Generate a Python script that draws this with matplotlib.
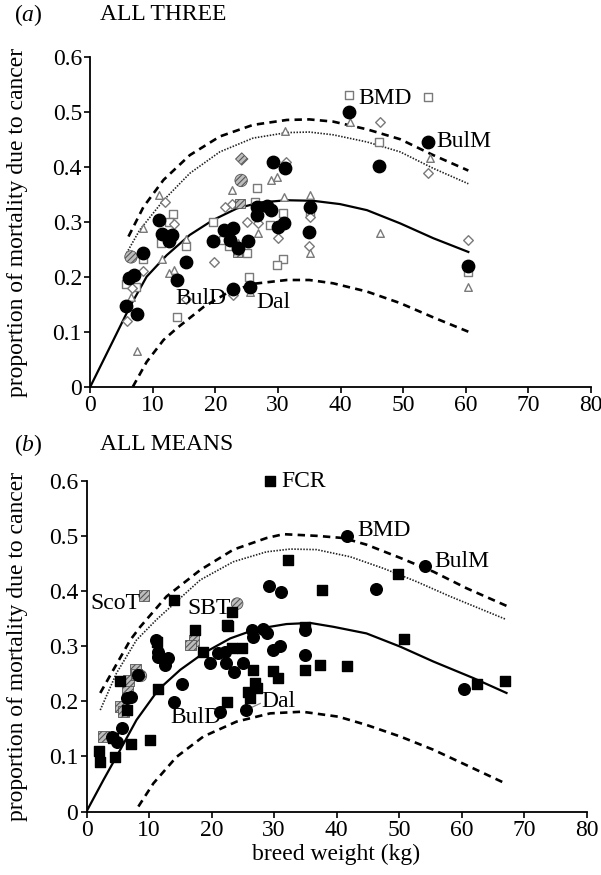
import numpy as np
import matplotlib
matplotlib.use("Agg")
from matplotlib import pyplot as plt

plt.rcParams['font.family'] = ['Liberation Serif', 'DejaVu Serif']
plt.rcParams['mathtext.fontset'] = 'custom'
plt.rcParams['mathtext.rm'] = 'Liberation Serif'
plt.rcParams['mathtext.it'] = 'Liberation Serif:italic'
plt.rcParams['hatch.linewidth'] = 0.8

# ---- panel (a): ALL THREE ----
a_circle_x = [6.2, 7.0, 5.7, 7.5, 8.4, 11.0, 11.4, 13.0, 12.6, 15.3, 13.8, 19.6, 21.4, 22.8,
              22.3, 23.6, 25.2, 22.8, 25.5, 26.6, 26.7, 28.3, 28.9, 29.2, 31.1, 30.0, 31.0,
              35.1, 35.0, 41.3, 54.0, 46.2, 60.3]
a_circle_y = [0.198, 0.204, 0.147, 0.132, 0.244, 0.303, 0.278, 0.275, 0.265, 0.227, 0.194,
              0.265, 0.285, 0.289, 0.267, 0.252, 0.265, 0.178, 0.181, 0.327, 0.312, 0.329,
              0.321, 0.409, 0.397, 0.291, 0.298, 0.326, 0.281, 0.499, 0.444, 0.402, 0.220]

a_square_x = [13.8, 13.2, 12.5, 11.3, 8.5, 5.7, 7.3, 15.3, 19.6, 21.2, 22.2, 25.0, 26.7, 26.3,
              28.7, 30.8, 30.8, 29.8, 25.4, 35.1, 41.3, 54.0, 46.2, 60.3]
a_square_y = [0.127, 0.314, 0.300, 0.262, 0.232, 0.186, 0.182, 0.255, 0.300, 0.267, 0.255,
              0.243, 0.362, 0.336, 0.294, 0.316, 0.233, 0.221, 0.199, 0.318, 0.530, 0.526,
              0.444, 0.208]

a_diamond_x = [5.8, 8.5, 13.4, 15.3, 19.8, 21.5, 25.1, 26.8, 30.0, 31.3, 35.1, 35.0, 22.8,
               6.6, 46.3, 54.0, 60.4, 22.6, 12.0]
a_diamond_y = [0.120, 0.211, 0.295, 0.159, 0.227, 0.327, 0.299, 0.297, 0.271, 0.408, 0.309,
               0.256, 0.167, 0.179, 0.482, 0.389, 0.267, 0.332, 0.335]

a_triangle_x = [31.1, 22.7, 28.9, 29.9, 26.8, 30.9, 35.1, 35.1, 15.3, 8.5, 11.4, 13.3, 12.6,
                6.5, 10.9, 23.6, 46.3, 54.2, 60.4, 41.5, 7.5, 25.5]
a_triangle_y = [0.465, 0.358, 0.375, 0.381, 0.279, 0.345, 0.349, 0.243, 0.268, 0.289, 0.233,
                0.212, 0.207, 0.164, 0.349, 0.261, 0.279, 0.415, 0.182, 0.482, 0.065, 0.172]

a_hatch_circle_x = [6.5, 24.1]
a_hatch_circle_y = [0.236, 0.375]
a_hatch_square_x = [23.9, 23.5]
a_hatch_square_y = [0.333, 0.245]
a_hatch_diamond_x = [24.2]
a_hatch_diamond_y = [0.414]

a_fit_x = [0, 3.7, 6.3, 9.0, 12.2, 15.9, 19.6, 23.4, 27.1, 31.4, 35.6, 39.9, 44.2, 49.5, 54.8, 60.4]
a_fit_y = [0, 0.085, 0.145, 0.200, 0.239, 0.276, 0.303, 0.324, 0.335, 0.339, 0.338, 0.332,
           0.321, 0.297, 0.270, 0.245]
a_upper_x = [6.1, 8.5, 11.7, 15.9, 20.7, 26.0, 31.4, 35.0, 38.8, 44.2, 49.5, 54.8, 60.4]
a_upper_y = [0.273, 0.327, 0.376, 0.421, 0.455, 0.476, 0.485, 0.486, 0.482, 0.468, 0.450,
             0.421, 0.393]
a_dot_x = [5.8, 7.9, 11.7, 15.9, 20.7, 26.0, 31.4, 35.0, 38.8, 44.2, 49.5, 54.8, 60.4]
a_dot_y = [0.243, 0.285, 0.339, 0.388, 0.427, 0.452, 0.462, 0.463, 0.458, 0.445, 0.427,
           0.397, 0.369]
a_lower_x = [6.8, 9.0, 11.7, 13.8, 18.1, 21.8, 26.0, 31.4, 35.0, 38.8, 44.2, 49.5, 54.8, 60.4]
a_lower_y = [0.0, 0.045, 0.085, 0.106, 0.145, 0.170, 0.187, 0.194, 0.194, 0.188, 0.173,
             0.152, 0.126, 0.100]

a_labels = ["BMD", "BulM", "BulD", "Dal"]
a_label_x = [42.9, 55.3, 13.6, 26.6]
a_label_y = [0.524, 0.446, 0.161, 0.153]

# ---- panel (b): ALL MEANS ----
b_square_x = [2.05, 2.2, 4.5, 4.3, 7.1, 10.2, 5.4, 6.5, 11.5, 11.3, 17.4, 18.7, 22.4, 24.9,
              22.4, 25.9, 26.2, 26.7, 27.0, 27.2, 29.8, 30.7, 35.0, 37.4, 35.0, 14.0, 23.3,
              22.6, 23.3, 32.3, 29.4, 37.6, 49.9, 50.8, 41.6, 62.5, 67.0]
b_square_y = [0.109, 0.090, 0.098, 0.133, 0.123, 0.130, 0.237, 0.184, 0.222, 0.308, 0.329,
              0.289, 0.338, 0.297, 0.199, 0.217, 0.205, 0.257, 0.233, 0.224, 0.254, 0.242,
              0.257, 0.266, 0.335, 0.384, 0.361, 0.337, 0.296, 0.456, 0.600, 0.401, 0.430,
              0.313, 0.263, 0.231, 0.237]

b_circle_x = [41.6, 54.2, 29.2, 31.1, 46.3, 35.0, 11.1, 11.5, 11.4, 13.1, 12.6, 15.2, 14.0,
              5.6, 4.8, 4.0, 6.4, 7.1, 8.3, 19.8, 21.1, 22.2, 22.3, 23.6, 25.1, 26.4, 26.7,
              28.3, 28.8, 29.9, 31.0, 35.0, 25.5, 21.4, 60.4]
b_circle_y = [0.500, 0.446, 0.409, 0.398, 0.403, 0.283, 0.311, 0.290, 0.281, 0.278, 0.266,
              0.231, 0.199, 0.151, 0.126, 0.135, 0.205, 0.207, 0.248, 0.269, 0.287, 0.290,
              0.270, 0.253, 0.269, 0.329, 0.317, 0.331, 0.323, 0.293, 0.300, 0.330, 0.184,
              0.180, 0.222]

b_hatch_square_x = [2.7, 5.4, 5.9, 6.5, 6.7, 7.8, 8.0, 17.2, 16.6, 9.2]
b_hatch_square_y = [0.136, 0.191, 0.181, 0.219, 0.237, 0.258, 0.249, 0.310, 0.302, 0.392]
b_hatch_circle_x = [8.7, 24.1]
b_hatch_circle_y = [0.246, 0.377]

b_fit_x = [0, 2.7, 5.4, 8.0, 11.5, 15.0, 18.7, 23.0, 27.2, 32.0, 35.8, 39.5, 44.8, 50.2,
           55.5, 61.9, 67.2]
b_fit_y = [0, 0.057, 0.112, 0.166, 0.221, 0.257, 0.287, 0.314, 0.331, 0.340, 0.342, 0.335,
           0.323, 0.299, 0.272, 0.242, 0.215]
b_upper_x = [2.2, 4.3, 7.0, 8.6, 12.8, 18.2, 23.5, 28.8, 31.5, 36.8, 41.1, 44.8, 50.2, 55.5,
             60.8, 67.2]
b_upper_y = [0.215, 0.257, 0.311, 0.335, 0.390, 0.438, 0.475, 0.496, 0.503, 0.500, 0.496,
             0.484, 0.460, 0.435, 0.405, 0.373]
b_dot_x = [2.2, 4.8, 8.0, 11.2, 18.2, 23.5, 28.8, 32.6, 36.8, 42.2, 47.5, 52.8, 58.2, 67.0]
b_dot_y = [0.184, 0.251, 0.311, 0.348, 0.420, 0.453, 0.471, 0.476, 0.475, 0.462, 0.441,
           0.417, 0.390, 0.349]
b_lower_x = [8.3, 10.7, 14.4, 18.7, 24.0, 29.4, 34.5, 40.3, 44.8, 50.2, 55.5, 60.8, 67.2]
b_lower_y = [0.009, 0.051, 0.099, 0.136, 0.163, 0.178, 0.181, 0.172, 0.157, 0.136, 0.112,
             0.084, 0.050]

b_labels = ["FCR", "BMD", "BulM", "ScoT", "SBT", "BulD", "Dal"]
b_label_x = [31.2, 43.3, 55.6, 0.6, 16.2, 13.4, 28.0]
b_label_y = [0.599, 0.510, 0.453, 0.378, 0.369, 0.170, 0.200]

xticks = [0, 10, 20, 30, 40, 50, 60, 70, 80]
yticks = [0, 0.1, 0.2, 0.3, 0.4, 0.5, 0.6]
ytick_labels = ['0', '0.1', '0.2', '0.3', '0.4', '0.5', '0.6']

W, H = 601, 875
fig = plt.figure(figsize=(W / 100, H / 100), dpi=100)

ax_a = fig.add_axes([90.3 / W, 1 - 386.7 / H, 500.7 / W, 330.0 / H])
ax_b = fig.add_axes([86.5 / W, 1 - 811.5 / H, 500.0 / W, 330.8 / H])

GRAY = '#7a7a7a'
HATCH_FC = '#bdbdbd'
HATCH_EC = '#555555'


def style_axes(ax):
    ax.set_xlim(0, 80)
    ax.set_ylim(0, 0.6)
    ax.set_xticks(xticks)
    ax.set_xticklabels([str(t) for t in xticks])
    ax.set_yticks(yticks)
    ax.set_yticklabels(ytick_labels)
    for s in ['top', 'right']:
        ax.spines[s].set_visible(False)
    for s in ['left', 'bottom']:
        ax.spines[s].set_linewidth(1.3)
    ax.tick_params(direction='out', length=4, width=1.2, labelsize=17, pad=2)


def draw_curves(ax, fx, fy, ux, uy, dx, dy, lx, ly):
    ax.plot(fx, fy, color='black', lw=1.6, zorder=3)
    ax.plot(ux, uy, color='black', lw=1.9, dashes=(2.8, 2.0), zorder=3)
    ax.plot(lx, ly, color='black', lw=1.9, dashes=(2.8, 2.0), zorder=3)
    ax.plot(dx, dy, color='#222222', lw=1.2, dashes=(0.9, 0.9), zorder=3)


# panel (a)
style_axes(ax_a)
draw_curves(ax_a, a_fit_x, a_fit_y, a_upper_x, a_upper_y, a_dot_x, a_dot_y, a_lower_x, a_lower_y)
ax_a.scatter(a_square_x, a_square_y, marker='s', s=30, facecolors='white', edgecolors=GRAY,
             linewidths=1.0, zorder=4, clip_on=False)
ax_a.scatter(a_diamond_x, a_diamond_y, marker='D', s=24, facecolors='white', edgecolors=GRAY,
             linewidths=1.0, zorder=4, clip_on=False)
ax_a.scatter(a_triangle_x, a_triangle_y, marker='^', s=30, facecolors='white', edgecolors=GRAY,
             linewidths=1.0, zorder=4, clip_on=False)
ax_a.scatter(a_hatch_circle_x, a_hatch_circle_y, marker='o', s=80, facecolors=HATCH_FC,
             edgecolors=HATCH_EC, hatch='//////', linewidths=0.6, zorder=5)
ax_a.scatter(a_hatch_square_x, a_hatch_square_y, marker='s', s=45, facecolors=HATCH_FC,
             edgecolors=HATCH_EC, hatch='//////', linewidths=0.6, zorder=5)
ax_a.scatter(a_hatch_diamond_x, a_hatch_diamond_y, marker='D', s=40, facecolors=HATCH_FC,
             edgecolors=HATCH_EC, hatch='//////', linewidths=0.6, zorder=5)
ax_a.scatter(a_circle_x, a_circle_y, marker='o', s=80, color='black', zorder=6, clip_on=False)
for t, x, y in zip(a_labels, a_label_x, a_label_y):
    ax_a.text(x, y, t, fontsize=17, ha='left', va='center', zorder=7)

# panel (b)
style_axes(ax_b)
draw_curves(ax_b, b_fit_x, b_fit_y, b_upper_x, b_upper_y, b_dot_x, b_dot_y, b_lower_x, b_lower_y)
ax_b.scatter(b_hatch_square_x, b_hatch_square_y, marker='s', s=62, facecolors=HATCH_FC,
             edgecolors=HATCH_EC, hatch='//////', linewidths=0.6, zorder=4)
ax_b.scatter(b_hatch_circle_x, b_hatch_circle_y, marker='o', s=70, facecolors=HATCH_FC,
             edgecolors=HATCH_EC, hatch='//////', linewidths=0.6, zorder=4)
ax_b.scatter(b_square_x, b_square_y, marker='s', s=62, color='black', zorder=5, clip_on=False)
ax_b.scatter(b_circle_x, b_circle_y, marker='o', s=70, color='black', zorder=5, clip_on=False)
for t, x, y in zip(b_labels, b_label_x, b_label_y):
    ax_b.text(x, y, t, fontsize=17, ha='left', va='center', zorder=7)
# leader line from the Dal point to its label
ax_b.plot([b_circle_x[32], 27.8], [b_circle_y[32], 0.196], color='#888888', lw=0.9, zorder=4)

ax_b.set_xlabel('breed weight (kg)', fontsize=17, labelpad=2)

# panel titles and y labels
for lab, ypx, title in [('a', 15, 'ALL THREE'), ('b', 445, 'ALL MEANS')]:
    fig.text(14 / W, 1 - ypx / H, r'($\mathit{%s}$)' % lab, fontsize=17, ha='left', va='center')
    fig.text(100 / W, 1 - ypx / H, title, fontsize=17, ha='left', va='center')

fig.text(18 / W, 1 - 222 / H, 'proportion of mortality due to cancer', fontsize=17,
         rotation=90, ha='center', va='center')
fig.text(18 / W, 1 - 646 / H, 'proportion of mortality due to cancer', fontsize=17,
         rotation=90, ha='center', va='center')

fig.savefig('out.png', dpi=100)
plt.close(fig)
